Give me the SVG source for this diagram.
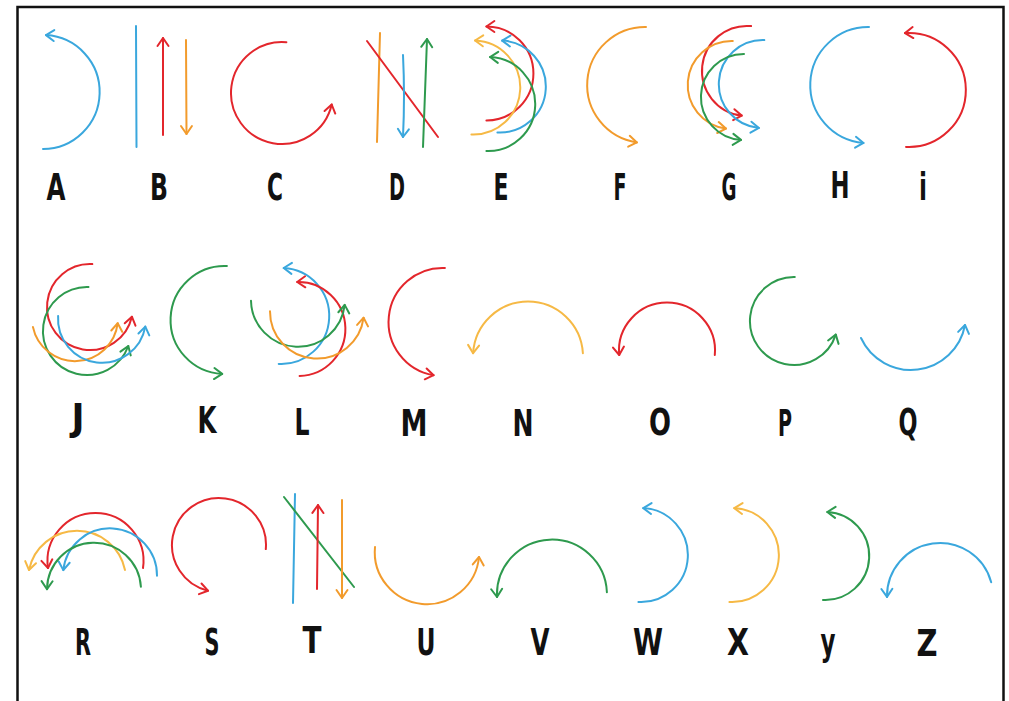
<svg xmlns="http://www.w3.org/2000/svg" width="1009" height="701" viewBox="0 0 1009 701">
<style>
path{fill:none;stroke-width:2;stroke-linecap:round;stroke-linejoin:round}
.b{stroke:#3AA7DD}.r{stroke:#E3262C}.o{stroke:#F29B2C}.y{stroke:#F6B945}.g{stroke:#2E9A4E}
text{font-family:'Liberation Sans Narrow','DejaVu Sans Condensed','Liberation Sans',sans-serif;font-weight:bold;font-size:37px;text-anchor:middle;fill:#111}
</style>
<defs>
<marker id="ab" markerUnits="userSpaceOnUse" viewBox="-10 -8 12 16" refX="0" refY="0" markerWidth="12" markerHeight="16" orient="auto" overflow="visible"><path class="b" d="M-8,-5.5 L0,0 L-8,5.5"/></marker>
<marker id="ar" markerUnits="userSpaceOnUse" viewBox="-10 -8 12 16" refX="0" refY="0" markerWidth="12" markerHeight="16" orient="auto" overflow="visible"><path class="r" d="M-8,-5.5 L0,0 L-8,5.5"/></marker>
<marker id="ao" markerUnits="userSpaceOnUse" viewBox="-10 -8 12 16" refX="0" refY="0" markerWidth="12" markerHeight="16" orient="auto" overflow="visible"><path class="o" d="M-8,-5.5 L0,0 L-8,5.5"/></marker>
<marker id="ay" markerUnits="userSpaceOnUse" viewBox="-10 -8 12 16" refX="0" refY="0" markerWidth="12" markerHeight="16" orient="auto" overflow="visible"><path class="y" d="M-8,-5.5 L0,0 L-8,5.5"/></marker>
<marker id="ag" markerUnits="userSpaceOnUse" viewBox="-10 -8 12 16" refX="0" refY="0" markerWidth="12" markerHeight="16" orient="auto" overflow="visible"><path class="g" d="M-8,-5.5 L0,0 L-8,5.5"/></marker>
</defs>
<rect x="0" y="0" width="1009" height="701" fill="#fff"/>
<rect x="17.5" y="7" width="986" height="720" fill="none" stroke="#111" stroke-width="2.5"/>

<g id="A">
<path class="b" d="M43,149 A57,57 0 0 0 46,35.1" marker-end="url(#ab)"/>
<text x="56" y="200" textLength="19" lengthAdjust="spacingAndGlyphs">A</text>
</g>
<g id="B">
<path class="b" d="M136,26 L136.5,147"/>
<path class="r" d="M163,135 L163,38" marker-end="url(#ar)"/>
<path class="o" d="M186,40 L186.5,134" marker-end="url(#ao)"/>
<text x="159" y="200" textLength="18" lengthAdjust="spacingAndGlyphs">B</text>
</g>
<g id="C">
<path class="r" d="M286.4,42.2 A51,51 0 1 0 331.7,104.5" marker-end="url(#ar)"/>
<text x="275" y="200" textLength="16" lengthAdjust="spacingAndGlyphs">C</text>
</g>
<g id="D">
<path class="o" d="M380,33 L377,142"/>
<path class="r" d="M367,41 L438,137"/>
<path class="b" d="M403,55 Q405,96 403,137" marker-end="url(#ab)"/>
<path class="g" d="M423,147 L427,39" marker-end="url(#ag)"/>
<text x="397" y="200" textLength="16" lengthAdjust="spacingAndGlyphs">D</text>
</g>
<g id="E">
<path class="r" d="M486.4,120.5 A47,47 0 1 0 486.4,26.5" marker-end="url(#ar)"/>
<path class="b" d="M497.4,132.5 A46,46 0 0 0 502.2,40.6" marker-end="url(#ab)"/>
<path class="y" d="M471.4,134.5 A47,47 0 0 0 475.05,40.5" marker-end="url(#ay)"/>
<path class="g" d="M486.4,151 A47,47 0 0 0 490.05,57.04" marker-end="url(#ag)"/>
<text x="501" y="200" textLength="15" lengthAdjust="spacingAndGlyphs">E</text>
</g>
<g id="F">
<path class="o" d="M646,27 A58,58 0 0 0 636.9,142.4" marker-end="url(#ao)"/>
<text x="620" y="200" textLength="13" lengthAdjust="spacingAndGlyphs">F</text>
</g>
<g id="G">
<path class="r" d="M751.1,26.1 A45,45 0 0 0 741.7,115.6" marker-end="url(#ar)"/>
<path class="o" d="M732.8,41 A44,44 0 0 0 725.9,128.6" marker-end="url(#ao)"/>
<path class="b" d="M764.3,40.1 A44,44 0 0 0 758.9,127.9" marker-end="url(#ab)"/>
<path class="g" d="M744,54 A43,43 0 0 0 741,139.9" marker-end="url(#ag)"/>
<text x="729" y="200" textLength="15" lengthAdjust="spacingAndGlyphs">G</text>
</g>
<g id="H">
<path class="b" d="M869,27.1 A58,58 0 0 0 863.5,142.9" marker-end="url(#ab)"/>
<text x="840" y="198" textLength="19" lengthAdjust="spacingAndGlyphs">H</text>
</g>
<g id="I">
<path class="r" d="M906,146.9 A57,57 0 1 0 905,33.1" marker-end="url(#ar)"/>
<text x="923" y="200" textLength="8" lengthAdjust="spacingAndGlyphs">i</text>
</g>

<g id="J">
<path class="r" d="M92.3,264.1 A43,43 0 1 0 131.9,316.7" marker-end="url(#ar)"/>
<path class="g" d="M88.5,287 A44,44 0 1 0 128.3,346" marker-end="url(#ag)"/>
<path class="o" d="M32.9,326.9 A43,43 0 0 0 117.7,323.2" marker-end="url(#ao)"/>
<path class="b" d="M58.1,315.9 A44,44 0 0 0 145.3,326.6" marker-end="url(#ab)"/>
<text x="78" y="430" textLength="13" lengthAdjust="spacingAndGlyphs">J</text>
</g>
<g id="K">
<path class="g" d="M226.9,266 A54,54 0 0 0 222.2,373.9" marker-end="url(#ag)"/>
<text x="207" y="433" textLength="19" lengthAdjust="spacingAndGlyphs">K</text>
</g>
<g id="L">
<path class="b" d="M278.7,363.9 A48,48 0 1 0 283.7,268" marker-end="url(#ab)"/>
<path class="r" d="M299.6,376 A47,47 0 0 0 297.2,282" marker-end="url(#ar)"/>
<path class="g" d="M251,300.8 A47,47 0 0 0 344.7,304.9" marker-end="url(#ag)"/>
<path class="o" d="M270,311.2 A47,47 0 0 0 363.6,317.7" marker-end="url(#ao)"/>
<text x="302" y="435" textLength="15" lengthAdjust="spacingAndGlyphs">L</text>
</g>
<g id="M">
<path class="r" d="M444.9,268 A54,54 0 0 0 433.6,375.2" marker-end="url(#ar)"/>
<text x="414" y="436" textLength="27" lengthAdjust="spacingAndGlyphs">M</text>
</g>
<g id="N">
<path class="y" d="M582.9,353.2 A55,55 0 0 0 473.1,353.2" marker-end="url(#ay)"/>
<text x="523" y="436" textLength="21" lengthAdjust="spacingAndGlyphs">N</text>
</g>
<g id="O">
<path class="r" d="M714.8,355 A48,48 0 1 0 619.2,355" marker-end="url(#ar)"/>
<text x="660" y="435" textLength="22" lengthAdjust="spacingAndGlyphs">O</text>
</g>
<g id="P">
<path class="g" d="M794.8,277 A44,44 0 1 0 835.8,334.6" marker-end="url(#ag)"/>
<text x="785" y="436" textLength="14" lengthAdjust="spacingAndGlyphs">P</text>
</g>
<g id="Q">
<path class="b" d="M861,338 A55,55 0 0 0 965,325" marker-end="url(#ab)"/>
<text x="908" y="435" textLength="19" lengthAdjust="spacingAndGlyphs">Q</text>
</g>

<g id="R">
<path class="r" d="M143,568 A48,48 0 1 0 48,568" marker-end="url(#ar)"/>
<path class="y" d="M125,570 A49,49 0 0 0 29,570" marker-end="url(#ay)"/>
<path class="b" d="M157,575.8 A47,47 0 0 0 63.3,570.1" marker-end="url(#ab)"/>
<path class="g" d="M140.9,586.7 A47,47 0 0 0 47,589.2" marker-end="url(#ag)"/>
<text x="83" y="655" textLength="16" lengthAdjust="spacingAndGlyphs">R</text>
</g>
<g id="S">
<path class="r" d="M265.8,549.1 A47,47 0 1 0 208,590.7" marker-end="url(#ar)"/>
<text x="212" y="655" textLength="15" lengthAdjust="spacingAndGlyphs">S</text>
</g>
<g id="T">
<path class="b" d="M295,494 L293,603"/>
<path class="g" d="M284,497 L354,587"/>
<path class="r" d="M317,589 L318,505" marker-end="url(#ar)"/>
<path class="o" d="M342,500 L342,598" marker-end="url(#ao)"/>
<text x="312" y="653" textLength="19" lengthAdjust="spacingAndGlyphs">T</text>
</g>
<g id="U">
<path class="o" d="M375,547 A52,52 0 0 0 479,557" marker-end="url(#ao)"/>
<text x="426" y="655" textLength="19" lengthAdjust="spacingAndGlyphs">U</text>
</g>
<g id="V">
<path class="g" d="M606.9,592.2 A55,55 0 0 0 497,597" marker-end="url(#ag)"/>
<text x="540" y="655" textLength="19" lengthAdjust="spacingAndGlyphs">V</text>
</g>
<g id="W">
<path class="b" d="M638.4,602 A47,47 0 0 0 643.3,508.1" marker-end="url(#ab)"/>
<text x="648" y="655" textLength="30" lengthAdjust="spacingAndGlyphs">W</text>
</g>
<g id="X">
<path class="y" d="M729.4,602 A47,47 0 0 0 734.3,508.1" marker-end="url(#ay)"/>
<text x="738" y="655" textLength="22" lengthAdjust="spacingAndGlyphs">X</text>
</g>
<g id="Y">
<path class="g" d="M823,600 A44,44 0 0 0 827.3,512" marker-end="url(#ag)"/>
<text x="828" y="655" textLength="15" lengthAdjust="spacingAndGlyphs">y</text>
</g>
<g id="Z">
<path class="b" d="M991.2,582.3 A53,53 0 0 0 887,596.9" marker-end="url(#ab)"/>
<text x="927" y="656" textLength="21" lengthAdjust="spacingAndGlyphs">Z</text>
</g>
</svg>
